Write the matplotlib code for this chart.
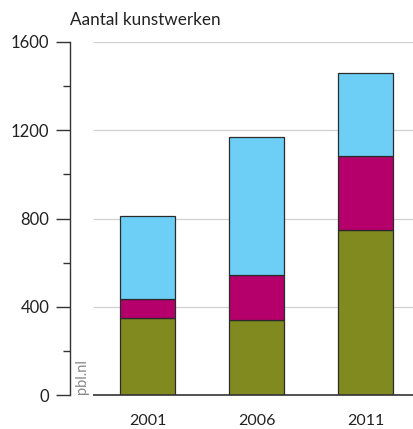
import matplotlib.pyplot as plt

# data
jaren = ["2001", "2006", "2011"]
groen = [350, 340, 750]
magenta = [85, 205, 335]
blauw = [375, 625, 375]

kleur_groen = "#808a1f"
kleur_magenta = "#b5006b"
kleur_blauw = "#6dcff6"

plt.rcParams["font.family"] = ["Lato", "DejaVu Sans"]

fig = plt.figure(figsize=(4.14, 4.29), dpi=100)
ax = fig.add_axes([70 / 414, 34 / 429, 344 / 414, 353 / 429])

x = range(len(jaren))
w = 0.505
onder2 = [g + m for g, m in zip(groen, magenta)]
ax.bar(x, groen, w, color=kleur_groen, edgecolor="#2b2b2b", linewidth=0.9, zorder=3)
ax.bar(x, magenta, w, bottom=groen, color=kleur_magenta, edgecolor="#2b2b2b", linewidth=0.9, zorder=3)
ax.bar(x, blauw, w, bottom=onder2, color=kleur_blauw, edgecolor="#2b2b2b", linewidth=0.9, zorder=3)

ax.set_xlim(-0.711, 2.445)
ax.set_ylim(0, 1600)

# gridlijnen
for yy in [400, 800, 1200, 1600]:
    ax.hlines(yy, -0.5, 2.445, color="#d0d0d0", linewidth=0.9, zorder=1)
ax.hlines(0, -0.5, 2.445, color="#333333", linewidth=1.2, zorder=4, clip_on=False)

for s in ["top", "right", "bottom"]:
    ax.spines[s].set_visible(False)
ax.spines["left"].set_color("#333333")
ax.spines["left"].set_linewidth(1.0)

ax.set_yticks([0, 400, 800, 1200, 1600])
ax.set_yticks([200, 600, 1000, 1400], minor=True)
ax.tick_params(axis="y", which="major", length=10, width=1.0, color="#333333",
               labelsize=12, pad=5, labelcolor="#222222")
ax.tick_params(axis="y", which="minor", length=5, width=1.0, color="#333333")
ax.set_xticks(list(x))
ax.set_xticklabels(jaren)
ax.tick_params(axis="x", length=0, pad=14, labelsize=11.5, labelcolor="#222222")

fig.text(70 / 414, 1 - 20 / 429, "Aantal kunstwerken", fontsize=12.3, color="#222222",
         ha="left", va="center")
ax.text(-0.6, 5, "pbl.nl", rotation=90, fontsize=10.5, color="#888888",
        ha="center", va="bottom")

fig.savefig("out.png", dpi=100)
